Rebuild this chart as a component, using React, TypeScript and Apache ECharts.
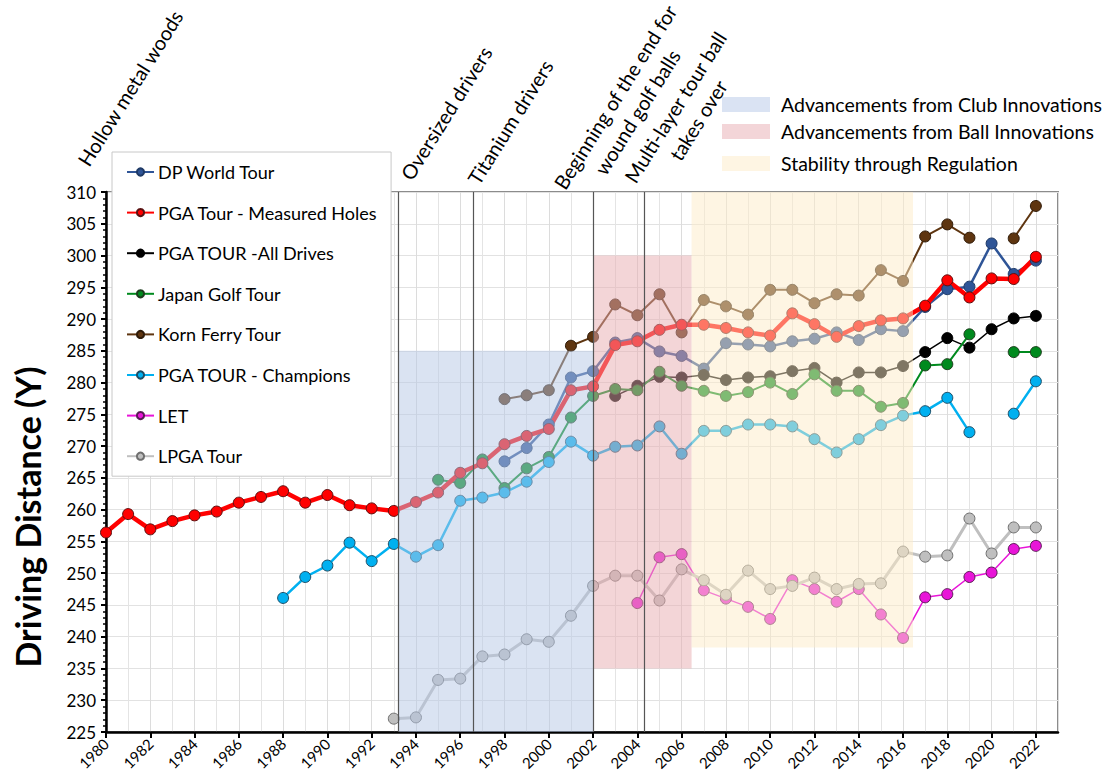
import React, { useEffect, useRef } from 'react';
import * as echarts from 'echarts';

const years = [1980, 1981, 1982, 1983, 1984, 1985, 1986, 1987, 1988, 1989, 1990, 1991, 1992, 1993, 1994, 1995, 1996, 1997, 1998, 1999, 2000, 2001, 2002, 2003, 2004, 2005, 2006, 2007, 2008, 2009, 2010, 2011, 2012, 2013, 2014, 2015, 2016, 2017, 2018, 2019, 2020, 2021, 2022];

const N = null;
// 1980 .. 2022
const dpWorld = [N, N, N, N, N, N, N, N, N, N, N, N, N, N, N, N, N, N, 267.6, 269.7, 273.4, 280.8, 281.8, 286.3, 287.0, 284.9, 284.2, 282.2, 286.2, 286.0, 285.7, 286.5, 286.9, 287.9, 286.7, 288.4, 288.1, 291.9, 294.7, 295.1, 301.9, 297.1, 299.2];
const pgaMeasured = [256.4, 259.3, 256.9, 258.2, 259.1, 259.7, 261.1, 262.0, 262.9, 261.1, 262.3, 260.7, 260.2, 259.8, 261.2, 262.7, 265.8, 267.3, 270.3, 271.6, 272.7, 278.8, 279.4, 285.9, 286.5, 288.3, 289.1, 289.1, 288.6, 287.9, 287.4, 290.9, 289.2, 287.2, 288.9, 289.8, 290.1, 292.1, 296.1, 293.4, 296.4, 296.3, 299.8];
const pgaAllDrives = [N, N, N, N, N, N, N, N, N, N, N, N, N, N, N, N, N, N, N, N, N, N, N, 277.9, 279.5, 280.9, 280.8, 281.2, 280.4, 280.8, 281.0, 281.8, 282.3, 280.0, 281.6, 281.6, 282.6, 284.8, 287.0, 285.5, 288.4, 290.1, 290.5];
const japan = [N, N, N, N, N, N, N, N, N, N, N, N, N, N, N, 264.7, 264.2, 267.9, 263.4, 266.5, 268.3, 274.5, 277.9, 279.0, 278.8, 281.7, 279.5, 278.7, 277.9, 278.5, 280.0, 278.2, 281.3, 278.7, 278.7, 276.2, 276.8, 282.7, 282.9, 287.6, N, 284.8, 284.8];
const kornFerry = [N, N, N, N, N, N, N, N, N, N, N, N, N, N, N, N, N, N, 277.4, 278.0, 278.8, 285.8, 287.2, 292.3, 290.6, 293.9, 287.9, 293.0, 292.0, 290.7, 294.6, 294.6, 292.5, 293.9, 293.7, 297.7, 296.0, 303.0, 304.9, 302.8, N, 302.7, 307.8];
const champions = [N, N, N, N, N, N, N, N, 246.1, 249.4, 251.2, 254.8, 251.9, 254.6, 252.6, 254.4, 261.4, 261.9, 262.7, 264.4, 267.5, 270.7, 268.5, 269.9, 270.1, 273.1, 268.8, 272.4, 272.4, 273.4, 273.4, 273.1, 271.1, 269.0, 271.1, 273.3, 274.8, 275.5, 277.6, 272.2, N, 275.1, 280.2];
const let_ = [N, N, N, N, N, N, N, N, N, N, N, N, N, N, N, N, N, N, N, N, N, N, N, N, 245.3, 252.5, 253.0, 247.3, 246.0, 244.7, 242.8, 248.9, 247.5, 245.5, 247.5, 243.5, 239.8, 246.2, 246.7, 249.4, 250.1, 253.8, 254.3];
const lpga = [N, N, N, N, N, N, N, N, N, N, N, N, N, 227.1, 227.3, 233.2, 233.4, 236.9, 237.2, 239.6, 239.2, 243.3, 248.0, 249.6, 249.6, 245.7, 250.6, 248.9, 246.6, 250.4, 247.5, 248.0, 249.3, 247.5, 248.3, 248.4, 253.4, 252.6, 252.8, 258.6, 253.1, 257.2, 257.2];

const seriesNames = ['DP World Tour', 'PGA Tour - Measured Holes', 'PGA TOUR -All Drives', 'Japan Golf Tour', 'Korn Ferry Tour', 'PGA TOUR - Champions', 'LET', 'LPGA Tour'];

// annotation events (year position)
const eventYears = [1993.2, 1996.6, 2002.0, 2004.3];

// shaded eras: [x0, x1, yLow, yHigh]
const clubEra = [1993.2, 2002.0, 225, 285];
const ballEra = [2002.0, 2006.45, 235, 300];
const regEra = [2006.45, 2016.45, 238.3, 310];

const FONT = 'Lato, "Open Sans", sans-serif';

function mk(name: string, arr: (number | null)[], color: string, width: number, border: string) {
  return {
    name,
    type: 'line',
    data: years.map((y, i) => [y, arr[i]]),
    symbol: 'circle',
    symbolSize: 11,
    connectNulls: false,
    lineStyle: { color, width },
    itemStyle: { color, borderColor: border, borderWidth: 1 },
    z: 3,
  };
}

export default function App() {
  const ref = useRef<HTMLDivElement>(null);
  useEffect(() => {
    const chart = echarts.init(ref.current!, null, { renderer: 'svg' });
    const rot = (58 * Math.PI) / 180;
    const annot = (text: string, x: number, y: number) => ({
      type: 'text',
      x,
      y,
      rotation: rot,
      style: { text, fontSize: 20, fontFamily: FONT, fill: '#000', align: 'center', verticalAlign: 'middle' },
    });
    const legendRow = (color: string, text: string, y: number) => [
      { type: 'rect', shape: { x: 722, y: y - 7, width: 48, height: 15 }, style: { fill: color } },
      { type: 'text', x: 781, y, style: { text, fontSize: 19.5, fontFamily: FONT, fill: '#000', align: 'left', verticalAlign: 'middle' } },
    ];
    const option: any = {
      animation: false,
      backgroundColor: '#fff',
      grid: { left: 106, right: 56, top: 192, bottom: 52, show: true, borderColor: '#8c8c8c', borderWidth: 2, backgroundColor: 'transparent' },
      xAxis: {
        type: 'value',
        min: 1980,
        max: 2023,
        interval: 2,
        splitNumber: 2,
        axisLine: { show: true, lineStyle: { color: '#000', width: 2.5 } },
        axisTick: { show: true, length: 6, lineStyle: { color: '#000', width: 2 } },
        axisLabel: {
          rotate: 45,
          fontSize: 15,
          fontFamily: FONT,
          color: '#000',
          margin: 9,
          showMaxLabel: false,
          formatter: (v: number) => (v % 2 === 0 ? String(v) : ''),
        },
        splitLine: { show: true, lineStyle: { color: '#dcdcdc', width: 1 } },
        minorTick: { show: false, splitNumber: 2 },
        minorSplitLine: { show: true, lineStyle: { color: '#e4e4e4', width: 1 } },
      },
      yAxis: {
        type: 'value',
        min: 225,
        max: 310,
        interval: 5,
        axisLine: { show: true, lineStyle: { color: '#000', width: 2.5 } },
        axisTick: { show: true, length: 5, lineStyle: { color: '#000', width: 2 } },
        minorTick: { show: true, splitNumber: 5, length: 3, lineStyle: { color: '#000', width: 1.5 } },
        axisLabel: { fontSize: 17, fontFamily: FONT, color: '#000', margin: 10 },
        splitLine: { show: true, lineStyle: { color: '#e2e2e2', width: 1 } },
      },
      legend: {
        data: seriesNames,
        orient: 'vertical',
        left: 112,
        top: 152,
        padding: [11, 13, 11, 14],
        itemGap: 22.6,
        itemWidth: 27,
        itemHeight: 9,
        backgroundColor: '#fff',
        borderColor: '#c8c8c8',
        borderWidth: 1,
        textStyle: { fontSize: 18, lineHeight: 18, fontFamily: FONT, color: '#000', padding: [0, 0, 0, -1] },
        z: 20,
      },
      series: [
        mk(seriesNames[0], dpWorld, '#2F5597', 2.5, '#1f3a66'),
        mk(seriesNames[2], pgaAllDrives, '#000000', 1.5, '#000'),
        mk(seriesNames[3], japan, '#008A1E', 2, '#1d3d1d'),
        mk(seriesNames[4], kornFerry, '#5E3510', 2, '#2e1a08'),
        mk(seriesNames[5], champions, '#00B0F0', 2.5, '#1d4d66'),
        mk(seriesNames[6], let_, '#E815D8', 1.5, '#5a1a55'),
        mk(seriesNames[7], lpga, '#BFBFBF', 3, '#6f6f6f'),
        mk(seriesNames[1], pgaMeasured, '#FF0000', 4.5, '#5a1010'),
        {
          name: 'overlay',
          type: 'line',
          data: [],
          z: 10,
          silent: true,
          markArea: {
            silent: true,
            z: 10,
            data: [
              [
                { xAxis: clubEra[0], yAxis: clubEra[2], itemStyle: { color: 'rgba(181,199,229,0.5)' } },
                { xAxis: clubEra[1], yAxis: clubEra[3] },
              ],
              [
                { xAxis: ballEra[0], yAxis: ballEra[2], itemStyle: { color: 'rgba(231,171,176,0.5)' } },
                { xAxis: ballEra[1], yAxis: ballEra[3] },
              ],
              [
                { xAxis: regEra[0], yAxis: regEra[2], itemStyle: { color: 'rgba(253,236,200,0.5)' } },
                { xAxis: regEra[1], yAxis: regEra[3] },
              ],
            ],
          },
          markLine: {
            silent: true,
            z: 11,
            symbol: 'none',
            label: { show: false },
            lineStyle: { color: '#555', width: 1.2, type: 'solid' },
            data: eventYears.map((x) => ({ xAxis: x })),
          },
        },
      ],
      graphic: [
        annot('Hollow metal woods', 130, 88),
        annot('Oversized drivers', 446, 113),
        annot('Titanium drivers', 510, 122),
        annot('Beginning of the end for', 615, 97),
        annot('wound golf balls', 637, 112),
        annot('Multi-layer tour ball', 675, 107),
        annot('takes over', 698, 120),
        ...legendRow('#DAE3F3', 'Advancements from Club Innovations', 104),
        ...legendRow('#F3D5D8', 'Advancements from Ball Innovations', 131),
        ...legendRow('#FEF5E3', 'Stability through Regulation', 163),
        {
          type: 'text',
          x: 27,
          y: 517,
          rotation: Math.PI / 2,
          style: { text: 'Driving Distance (Y)', fontSize: 34, fontWeight: 'bold', fontFamily: FONT, fill: '#000', align: 'center', verticalAlign: 'middle' },
        },
      ],
    };
    chart.setOption(option);
    return () => chart.dispose();
  }, []);
  return <div ref={ref} style={{ position: 'fixed', left: 0, top: 0, width: 1114, height: 784 }} />;
}
